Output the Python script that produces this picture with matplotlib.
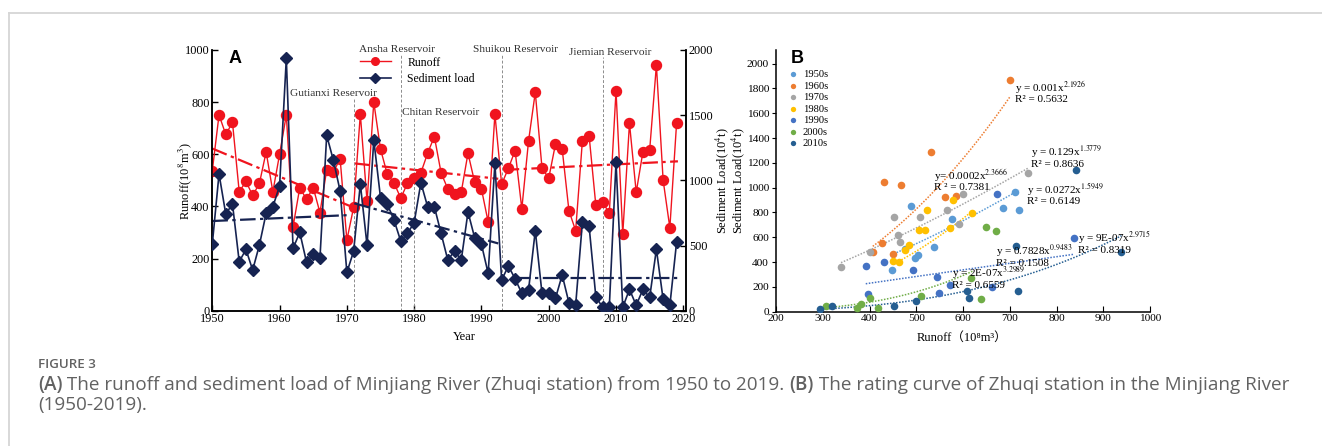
import matplotlib
matplotlib.use('Agg')
import matplotlib.pyplot as plt
import numpy as np
from matplotlib.lines import Line2D

# ---- panel A data (Zhuqi station) ----
years = list(range(1950, 2020))
runoff = [537, 751, 676, 722, 456, 496, 442, 488, 609, 456,
          600, 751, 322, 472, 427, 472, 376, 540, 533, 582,
          271, 396, 754, 419, 800, 620, 524, 491, 432, 488,
          508, 529, 604, 668, 529, 467, 448, 455, 604, 492,
          467, 340, 754, 485, 546, 614, 391, 651, 838, 547,
          508, 639, 620, 384, 307, 651, 671, 404, 418, 373,
          844, 294, 719, 454, 610, 616, 942, 501, 318, 719]
sediment = [512, 1049, 742, 818, 376, 470, 312, 504, 747, 798,
            957, 1936, 478, 601, 373, 432, 404, 1345, 1153, 918,
            294, 455, 972, 501, 1309, 867, 818, 696, 535, 593,
            675, 982, 798, 798, 593, 389, 458, 389, 757, 558,
            509, 286, 1130, 235, 343, 245, 133, 159, 614, 133,
            133, 95, 274, 61, 43, 678, 647, 107, 26, 26,
            1138, 26, 164, 41, 164, 102, 471, 87, 41, 524]

# trend segments (start/end year, start/end value)
runoff_trend_x = [(1950, 1970.6), (1971.1, 1992.5), (1993.3, 2019.2)]
runoff_trend_y = [(622, 400), (565, 506), (540, 573)]
sed_trend_x = [(1950, 1970.6), (1971.1, 1992.5), (1995, 2019.2)]
sed_trend_y = [(688, 734), (824, 516), (248, 248)]

reservoirs = ['Gutianxi Reservoir', 'Ansha Reservoir', 'Chitan Reservoir',
              'Shuikou Reservoir', 'Jiemian Reservoir']
reservoir_year = [1971, 1978, 1980, 1993, 2008]

# ---- panel B data (runoff vs sediment load by decade) ----
decades = ['1950s', '1960s', '1970s', '1980s', '1990s', '2000s', '2010s']
dec_runoff = [
    [489, 537, 498, 504, 476, 448, 576, 712, 686, 719],
    [700, 532, 430, 467, 561, 584, 426, 407, 451],
    [339, 401, 453, 460, 465, 509, 566, 600, 591, 740],
    [523, 506, 518, 485, 477, 451, 464, 578, 573, 619],
    [392, 430, 493, 396, 545, 548, 573, 661, 673, 838],
    [308, 382, 373, 401, 419, 510, 617, 639, 649, 670],
    [294, 319, 453, 500, 608, 612, 714, 717, 939, 841],
]
dec_sediment = [
    [854, 519, 432, 459, 507, 336, 747, 968, 840, 819],
    [1866, 1289, 1047, 1020, 926, 932, 550, 478, 462],
    [362, 483, 760, 615, 561, 760, 817, 945, 706, 1122],
    [817, 655, 655, 537, 497, 408, 398, 897, 671, 794],
    [370, 403, 336, 143, 277, 148, 215, 196, 945, 596],
    [48, 64, 32, 110, 32, 129, 274, 99, 679, 650],
    [19, 43, 43, 86, 168, 108, 529, 168, 478, 1141],
]
fit_a = [0.0272, 0.001, 0.129, 0.0002, 0.7828, 2e-07, 9e-07]
fit_b = [1.5949, 2.1926, 1.3779, 2.3666, 0.9483, 3.2989, 2.9715]
fit_r2 = ['0.6149', '0.5632', '0.8636', '0.7381', '0.1508', '0.6559', '0.8319']
fit_lo = [446, 407, 339, 451, 392, 308, 294]
fit_hi = [720, 700, 740, 619, 838, 620, 939]
eq_text = ['y = 0.0272x', 'y = 0.001x', 'y = 0.129x', 'y= 0.0002x',
           'y = 0.7828x', 'y = 2E-07x', 'y = 9E-07x']
r2_prefix = ['R² = ', 'R² = ', 'R² = ', 'R ² = ', 'R² = ', 'R² = ', 'R² = ']
eq_pos = [(737, 988), (712, 1810), (746, 1286), (538, 1101),
          (671, 489), (577, 312), (847, 594)]
dec_colors = ['#5b9bd5', '#ed7d31', '#a5a5a5', '#ffc000',
              '#4472c4', '#70ad47', '#255e91']

W, H = 1322, 446
plt.rcParams['font.family'] = ['Liberation Serif', 'DejaVu Serif']
plt.rcParams['mathtext.fontset'] = 'stix'

fig = plt.figure(figsize=(W / 100, H / 100), dpi=100)

def px(x, y):
    return x / W, 1 - y / H

red = '#f0141e'
navy = '#162351'

# ---------------- panel A ----------------
axA = fig.add_axes([212.3 / W, (H - 310.7) / H, 473.7 / W, 260.7 / H])
axA2 = axA.twinx()

axA.plot(years, runoff, color=red, lw=1.0, marker='o', ms=7.2, zorder=3)
axA2.plot(years, sediment, color=navy, lw=1.2, marker='D', ms=6.3, zorder=3)

for (x0, x1), (y0, y1) in zip(runoff_trend_x, runoff_trend_y):
    axA.plot([x0, x1], [y0, y1], color=red, lw=1.6, ls=(0, (7, 2, 1.5, 2)))
for (x0, x1), (y0, y1) in zip(sed_trend_x, sed_trend_y):
    axA2.plot([x0, x1], [y0, y1], color=navy, lw=1.6, ls=(0, (7, 2, 1.5, 2)))

tops = [816, 980, 739, 980, 975]
label_pos = [(1968.0, 834), (1977.5, 1000), (1984.0, 760), (1995.0, 1000), (2009.2, 990)]
for name, yr, top, (lx, ly) in zip(reservoirs, reservoir_year, tops, label_pos):
    axA.plot([yr, yr], [0, top], color='#8c8c8c', lw=0.7, ls=(0, (3, 2)))
    axA.text(lx, ly, name, ha='center', va='center', fontsize=8.2,
             color='#333333', clip_on=False)

axA.set_xlim(1950, 2020.4)
axA.set_ylim(0, 1000)
axA2.set_ylim(0, 2000)
axA.set_xticks(range(1950, 2021, 10))
axA.set_yticks(range(0, 1001, 200))
axA2.set_yticks(range(0, 2001, 500))
for a in (axA, axA2):
    a.spines['top'].set_visible(False)
    a.tick_params(direction='in', length=4.5, width=1, labelsize=8.8, pad=2)
    for s in a.spines.values():
        s.set_linewidth(1.1)

hA = [Line2D([], [], color=red, lw=1.0, marker='o', ms=5.5),
      Line2D([], [], color=navy, lw=1.2, marker='D', ms=5)]
axA2.legend(hA, ['Runoff', 'Sediment load'], loc='upper left',
            bbox_to_anchor=(0.312, 0.975), frameon=False, fontsize=8.5,
            handlelength=2.6, handletextpad=1.4, labelspacing=0.35,
            borderaxespad=0, borderpad=0)

axA.text(0.047, 0.967, 'A', transform=axA.transAxes, ha='center', va='center',
         fontsize=13, fontweight='bold', family='Liberation Sans')

fig.text(*px(185, 181), 'Runoff(10$^8$m$^3$)', rotation=90, ha='center',
         va='center', fontsize=9)
fig.text(*px(722, 181), 'Sediment Load(10$^4$t)', rotation=90, ha='center',
         va='center', fontsize=9)
fig.text(*px(464, 337), 'Year', ha='center', va='center', fontsize=9)

# ---------------- panel B ----------------
axB = fig.add_axes([776 / W, (H - 311.7) / H, 374 / W, 261.7 / H])
for i, dec in enumerate(decades):
    axB.scatter(dec_runoff[i], dec_sediment[i], s=30, color=dec_colors[i],
                label=dec, zorder=3, linewidths=0)
for i in range(len(decades)):
    xs = np.linspace(fit_lo[i], fit_hi[i], 60)
    axB.plot(xs, fit_a[i] * xs ** fit_b[i], color=dec_colors[i], lw=1.1,
             ls=(0, (1, 1)), zorder=2)
    ex, ey = eq_pos[i]
    axB.text(ex, ey, eq_text[i] + '$^{%.4f}$' % fit_b[i], fontsize=8,
             ha='left', va='center', zorder=4)
    axB.text(ex, ey - 97, r2_prefix[i] + fit_r2[i], fontsize=8,
             ha='left', va='center', zorder=4)

axB.set_xlim(200, 1000)
axB.set_ylim(0, 2110)
axB.set_xticks(range(200, 1001, 100))
axB.set_yticks(range(0, 2001, 200))
axB.spines['top'].set_visible(False)
axB.spines['right'].set_visible(False)
for s in axB.spines.values():
    s.set_linewidth(1.1)
axB.tick_params(axis='x', direction='in', length=4, labelsize=8.2, pad=2)
axB.tick_params(axis='y', direction='out', length=3, labelsize=8.2, pad=2)
axB.legend(loc='upper left', bbox_to_anchor=(0.035, 0.925), frameon=False,
           fontsize=7.6, handlelength=0.8, handletextpad=0.5,
           labelspacing=0.2, borderaxespad=0, borderpad=0, markerscale=0.7)
axB.text(0.056, 0.966, 'B', transform=axB.transAxes, ha='center', va='center',
         fontsize=13, fontweight='bold', family='Liberation Sans')

fig.text(*px(738, 181), 'Sediment Load(10$^4$t)', rotation=90, ha='center',
         va='center', fontsize=9)
fig.text(*px(962, 338), 'Runoff（10⁸m³）', ha='center', va='center',
         fontsize=9, family=['Liberation Serif', 'Noto Sans CJK SC'])

# ---------------- frame and caption ----------------
fig.add_artist(Line2D([9 / W, 1], [1 - 13 / H, 1 - 13 / H], color='#d6d6d6',
                      lw=1.3, transform=fig.transFigure))
fig.add_artist(Line2D([9 / W, 9 / W], [0, 1 - 13 / H], color='#d6d6d6',
                      lw=1.3, transform=fig.transFigure))

cap_font = ['Open Sans', 'DejaVu Sans']
cap_color = '#626262'
fig.text(*px(38, 365), 'FIGURE 3', ha='left', va='center', fontsize=9.6,
         color='#626262', fontweight='semibold', family=cap_font)

renderer = fig.canvas.get_renderer()
pieces = [('(A)', 'semibold'),
          (' The runoff and sediment load of Minjiang River (Zhuqi station) from 1950 to 2019. ', 'normal'),
          ('(B)', 'semibold'),
          (' The rating curve of Zhuqi station in the Minjiang River', 'normal')]
xcur = 38
for txt, wt in pieces:
    t = fig.text(*px(xcur, 385), txt, ha='left', va='center', fontsize=13.6,
                 color=cap_color, fontweight=wt, family=cap_font)
    xcur += t.get_window_extent(renderer).width
fig.text(*px(38, 405), '(1950-2019).', ha='left', va='center', fontsize=13.6,
         color=cap_color, family=cap_font)

fig.savefig('out.png', dpi=100)
